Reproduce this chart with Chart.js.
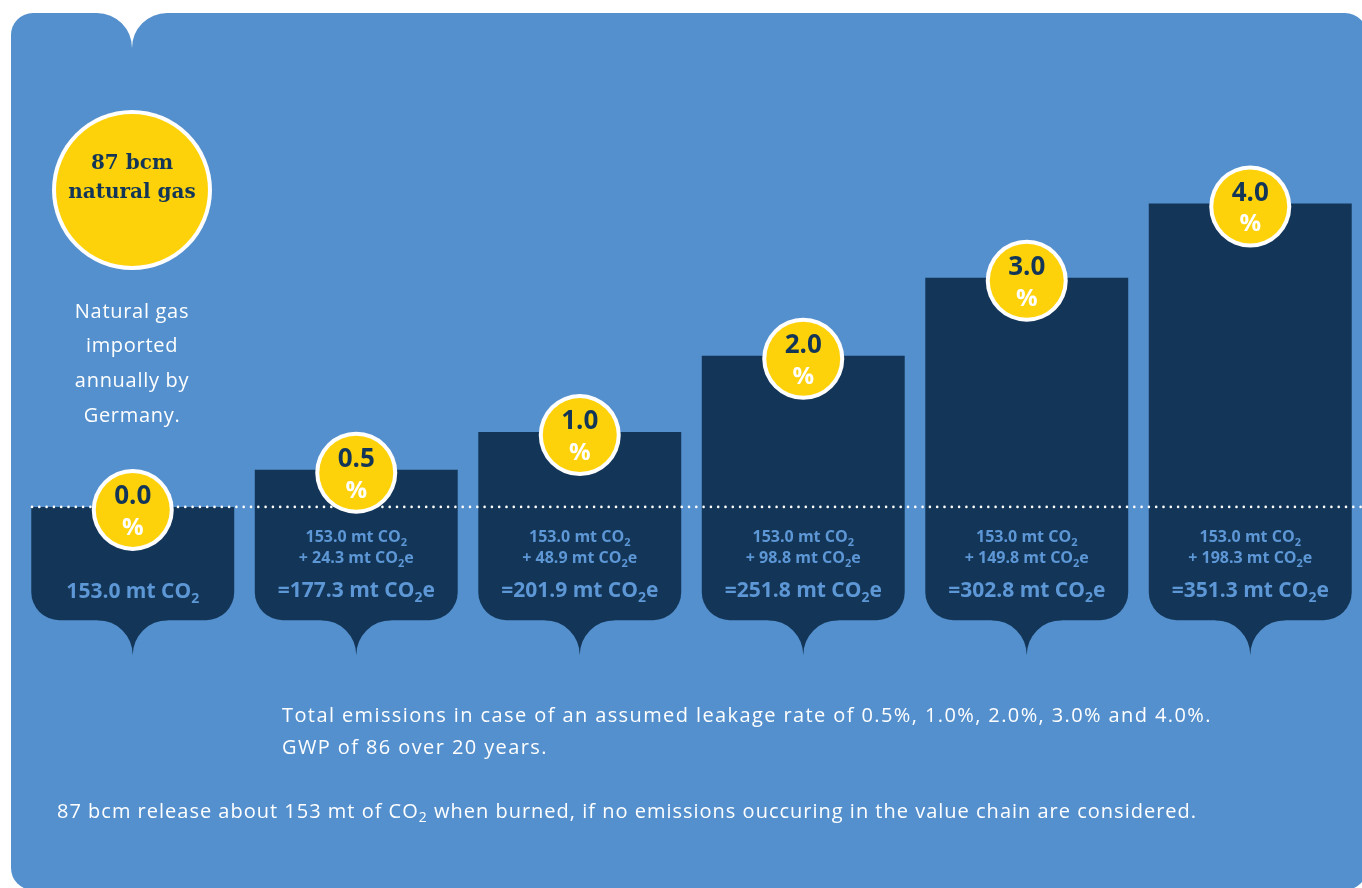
<!DOCTYPE html>
<html>
<head>
    <title>Leakage emissions</title>
    <style>
        body {
            margin: 0;
            background-color: #ffffff;
        }

        #chartBox {
            width: 1362px;
            height: 888px;
        }
    </style>
    <script src="https://cdn.jsdelivr.net/npm/chart.js"></script>
</head>
<body>
    <div id="chartBox">
        <canvas id="leakChart"></canvas>
    </div>

    <script>
        // datos
        var leakRates = ['0.0', '0.5', '1.0', '2.0', '3.0', '4.0'];
        var burnedCO2 = [153.0, 153.0, 153.0, 153.0, 153.0, 153.0];
        var leakCO2e = [0, 24.3, 48.9, 98.8, 149.8, 198.3];
        var totalCO2e = [153.0, 177.3, 201.9, 251.8, 302.8, 351.3];

        var colores = {
            panel: '#5490cd',
            navy: '#133658',
            yellow: '#fed20b',
            softBlue: '#5d97d6',
            white: '#ffffff'
        };

        var sansFont = '"Open Sans", Lato, sans-serif';
        var serifFont = '"DejaVu Serif", serif';
        var boxFloor = 79;   // el fondo de la caja de texto (no escala)

        // dibuja la "cola" en punta debajo de una caja
        function drawTail(ctx, cx, baseY, r, color) {
            ctx.save();
            ctx.fillStyle = color;
            ctx.beginPath();
            ctx.moveTo(cx - r, baseY - 1);
            ctx.arc(cx - r, baseY + r, r, -Math.PI / 2, 0, false);
            ctx.arc(cx + r, baseY + r, r, Math.PI, Math.PI * 1.5, false);
            ctx.lineTo(cx + r, baseY - 1);
            ctx.closePath();
            ctx.fill();
            ctx.restore();
        }

        // texto con subíndices: parts = [[texto, esSub], ...]
        function drawRich(ctx, parts, x, y, size, weight, color, align) {
            var subSize = Math.round(size * 0.68);
            var total = 0;
            parts.forEach(function(p) {
                ctx.font = weight + ' ' + (p[1] ? subSize : size) + 'px ' + sansFont;
                total += ctx.measureText(p[0]).width;
            });
            var cur = align === 'left' ? x : x - total / 2;
            ctx.fillStyle = color;
            ctx.textAlign = 'left';
            ctx.textBaseline = 'alphabetic';
            parts.forEach(function(p) {
                ctx.font = weight + ' ' + (p[1] ? subSize : size) + 'px ' + sansFont;
                ctx.fillText(p[0], cur, p[1] ? y + size * 0.22 : y);
                cur += ctx.measureText(p[0]).width;
            });
        }

        function drawCircle(ctx, x, y, r, ring) {
            ctx.beginPath();
            ctx.arc(x, y, r, 0, Math.PI * 2);
            ctx.fillStyle = colores.white;
            ctx.fill();
            ctx.beginPath();
            ctx.arc(x, y, r - ring, 0, Math.PI * 2);
            ctx.fillStyle = colores.yellow;
            ctx.fill();
        }

        var fondoPlugin = {
            id: 'fondo',
            beforeDraw: function(chart) {
                var ctx = chart.ctx;
                ctx.save();
                ctx.fillStyle = colores.white;
                ctx.fillRect(0, 0, chart.width, chart.height);
                ctx.fillStyle = colores.panel;
                ctx.beginPath();
                ctx.roundRect(11, 13, 1356, 877, 22);
                ctx.fill();
                ctx.restore();
                // muesca blanca arriba
                drawTail(ctx, 132, 13, 35, colores.white);

                // círculo grande y texto de la izquierda
                ctx.save();
                drawCircle(ctx, 132, 190, 80, 4);
                ctx.fillStyle = colores.navy;
                ctx.textAlign = 'center';
                ctx.textBaseline = 'middle';
                ctx.font = 'bold 20px ' + serifFont;
                ctx.fillText('87 bcm', 132, 164);
                ctx.fillText('natural gas', 132, 193);

                ctx.fillStyle = colores.white;
                ctx.font = '20px ' + sansFont;
                ctx.letterSpacing = '0.7px';
                ['Natural gas', 'imported', 'annually by', 'Germany.'].forEach(function(line, i) {
                    ctx.fillText(line, 132, 312 + i * 34.6);
                });

                // notas de abajo
                ctx.letterSpacing = '1.4px';
                ctx.textAlign = 'left';
                ctx.fillText('Total emissions in case of an assumed leakage rate of ' +
                    leakRates.slice(1, 5).map(function(r) { return r + '%'; }).join(', ') +
                    ' and ' + leakRates[5] + '%.', 282, 716);
                ctx.fillText('GWP of 86 over 20 years.', 282, 748);
                ctx.restore();

                ctx.save();
                ctx.letterSpacing = '1px';
                drawRich(ctx, [['87 bcm release about 153 mt of CO', false], ['2', true],
                    [' when burned, if no emissions ouccuring in the value chain are considered.', false]],
                    57, 818, 20, 'normal', colores.white, 'left');
                ctx.restore();
            },
            afterDatasetsDraw: function(chart) {
                var ctx = chart.ctx;
                var meta = chart.getDatasetMeta(0);
                var yBase = chart.scales.y.getPixelForValue(burnedCO2[0]);

                meta.data.forEach(function(bar) {
                    drawTail(ctx, bar.x, bar.base, 35, colores.navy);
                });

                // línea punteada en el nivel de 153 mt
                ctx.save();
                ctx.fillStyle = colores.white;
                for (var x = 32; x < 1362; x += 7.3) {
                    ctx.beginPath();
                    ctx.arc(x, yBase, 1.3, 0, Math.PI * 2);
                    ctx.fill();
                }
                ctx.restore();

                meta.data.forEach(function(bar, i) {
                    ctx.save();
                    var cy = bar.y + 3;
                    drawCircle(ctx, bar.x, cy, 41, 4);
                    ctx.textAlign = 'center';
                    ctx.textBaseline = 'middle';
                    ctx.fillStyle = colores.navy;
                    ctx.font = 'bold 26px ' + sansFont;
                    ctx.fillText(leakRates[i], bar.x, cy - 13);
                    ctx.fillStyle = colores.white;
                    ctx.font = 'bold 24px ' + sansFont;
                    ctx.fillText('%', bar.x, cy + 18);
                    ctx.restore();

                    ctx.save();
                    if (leakCO2e[i] === 0) {
                        drawRich(ctx, [[burnedCO2[i].toFixed(1) + ' mt CO', false], ['2', true]],
                            bar.x, bar.base - 22, 21, 'bold', colores.softBlue);
                    } else {
                        drawRich(ctx, [[burnedCO2[i].toFixed(1) + ' mt CO', false], ['2', true]],
                            bar.x, bar.base - 78, 16, 'bold', colores.softBlue);
                        drawRich(ctx, [['+ ' + leakCO2e[i].toFixed(1) + ' mt CO', false], ['2', true], ['e', false]],
                            bar.x, bar.base - 57, 16, 'bold', colores.softBlue);
                        drawRich(ctx, [['=' + totalCO2e[i].toFixed(1) + ' mt CO', false], ['2', true], ['e', false]],
                            bar.x, bar.base - 23, 21, 'bold', colores.softBlue);
                    }
                    ctx.restore();
                });
            }
        };

        var leakChart = new Chart(document.getElementById('leakChart'), {
            type: 'bar',
            data: {
                labels: leakRates,
                datasets: [{
                    label: 'Total CO2e',
                    data: totalCO2e.map(function(t) { return [boxFloor, t]; }),
                    backgroundColor: colores.navy,
                    borderWidth: 0,
                    borderSkipped: false,
                    borderRadius: { topLeft: 0, topRight: 0, bottomLeft: 28, bottomRight: 28 },
                    inflateAmount: 0,
                    categoryPercentage: 1,
                    barPercentage: 0.908
                }]
            },
            options: {
                responsive: true,
                maintainAspectRatio: false,
                animation: false,
                layout: {
                    padding: { left: 21, right: 0, top: 129, bottom: 147 }
                },
                scales: {
                    x: { display: false },
                    y: { display: false, min: 0, max: 400 }
                },
                plugins: {
                    legend: { display: false },
                    tooltip: { enabled: false }
                }
            },
            plugins: [fondoPlugin]
        });
    </script>
</body>
</html>
